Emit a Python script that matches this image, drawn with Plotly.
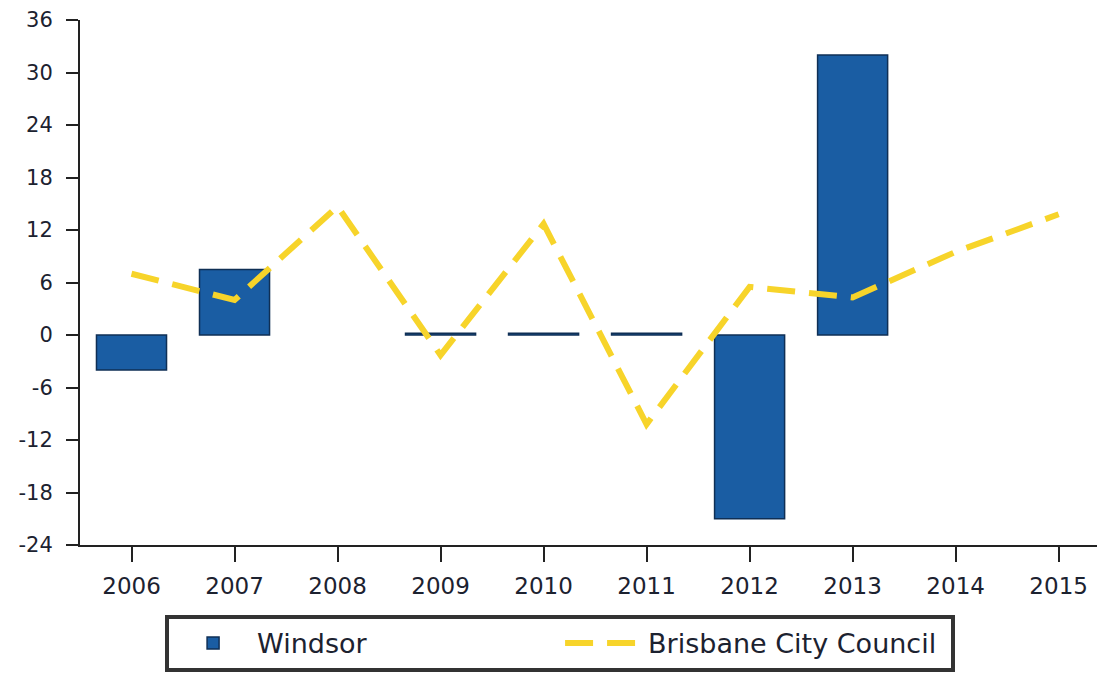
import plotly.graph_objects as go

# dados
anos = ["2006", "2007", "2008", "2009", "2010", "2011", "2012", "2013", "2014", "2015"]
windsor = [-4, 7.5, None, 0.2, 0.2, 0.2, -21, 32, None, None]
brisbane = [7, 4, 14.7, -2.3, 12.7, -10.2, 5.5, 4.3, 9.5, 13.8]
eixo_y = list(range(-24, 37, 6))
rotulos_y = [str(v) for v in eixo_y]

fig = go.Figure()

fig.add_trace(go.Bar(
    x=anos, y=windsor, name="Windsor",
    marker=dict(color="#1a5da3", line=dict(color="#0f2f55", width=1.5)),
))

fig.add_trace(go.Scatter(
    x=anos, y=brisbane, name="Brisbane City Council", mode="lines",
    line=dict(color="#f7d42a", width=6, dash="28px,14px"),
))

fig.update_xaxes(
    type="category", range=[-0.5, 9.45], automargin=False,
    showline=True, linecolor="#222", linewidth=2,
    ticks="outside", ticklen=15, tickcolor="#222", tickwidth=2,
    showgrid=False, ticklabelstandoff=4, tickfont=dict(size=23),
)
fig.update_yaxes(
    range=[-24, 36], tickvals=eixo_y, ticktext=rotulos_y, automargin=False,
    showline=True, linecolor="#222", linewidth=2,
    ticks="outside", ticklen=12, tickcolor="#222", tickwidth=2,
    showgrid=False, zeroline=False, ticklabelstandoff=9, tickfont=dict(size=21),
)

# a página tem margem de 8px no body, por isso as margens são compensadas
fig.update_layout(
    width=1105, height=682,
    paper_bgcolor="white", plot_bgcolor="white",
    font=dict(family="DejaVu Sans, sans-serif", color="#1c2230", size=20),
    bargap=0.32,
    margin=dict(l=72, r=8, t=12, b=145),
    legend=dict(
        orientation="h",
        x=0.083, y=-0.133, xanchor="left", yanchor="top",
        font=dict(size=27),
        bordercolor="#333", borderwidth=4, bgcolor="white",
        itemwidth=78,
        entrywidth=298, entrywidthmode="pixels",
    ),
)

fig.write_html("out.html")
